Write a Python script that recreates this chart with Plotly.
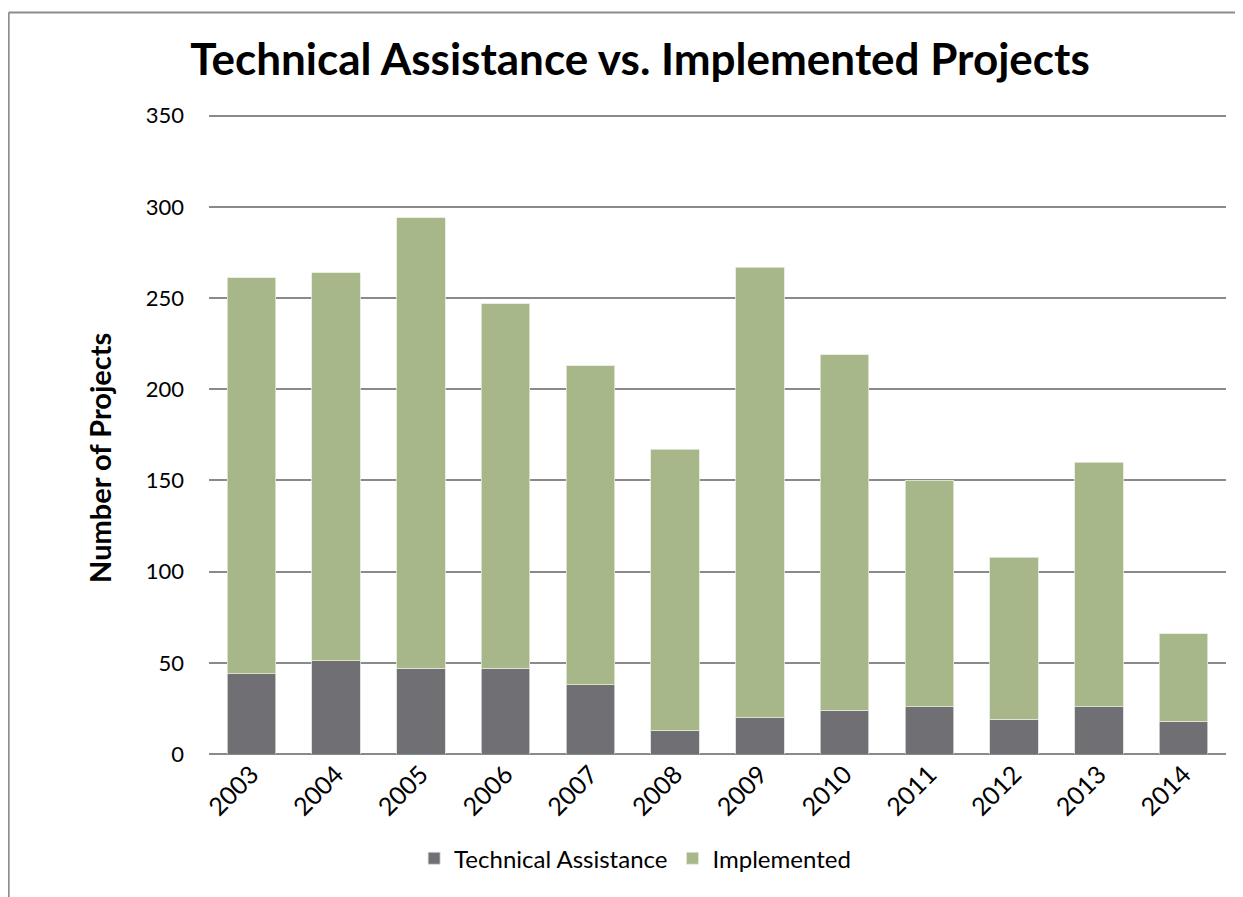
import plotly.graph_objects as go

years = ['2003', '2004', '2005', '2006', '2007', '2008',
         '2009', '2010', '2011', '2012', '2013', '2014']
technical_assistance = [44, 51, 47, 47, 38, 13, 20, 24, 26, 19, 26, 18]
implemented = [217, 213, 247, 200, 175, 154, 247, 195, 124, 89, 134, 48]
y_ticks = [0, 50, 100, 150, 200, 250, 300, 350]

FONT = 'Lato, Open Sans, sans-serif'
GRID = '#8a8a8a'

fig = go.Figure()
fig.add_trace(go.Bar(
    x=years, y=technical_assistance, name='Technical Assistance',
    marker=dict(color='#706f74', line=dict(color='#d9d9d9', width=0.8))
))
fig.add_trace(go.Bar(
    x=years, y=implemented, name='Implemented',
    marker=dict(color='#a7b78a', line=dict(color='#e4ebd8', width=0.8))
))

# chart-area frame (top and left edges visible in the reference)
fig.add_shape(type='line', xref='paper', yref='paper',
              x0=-0.197, x1=1.03, y0=1.155, y1=1.155,
              line=dict(color='#8c8c8c', width=2))
fig.add_shape(type='line', xref='paper', yref='paper',
              x0=-0.197, x1=-0.197, y0=1.155, y1=-0.25,
              line=dict(color='#8c8c8c', width=2))

# y axis title placed like the Excel original (a bit below centre)
fig.add_annotation(
    text='<b>Number of Projects</b>', xref='paper', yref='paper',
    x=-0.107, y=0.4615, textangle=-90, showarrow=False,
    xanchor='center', yanchor='middle',
    font=dict(family=FONT, size=29, color='black')
)

# page body adds an 8px offset, so margins are shifted to compensate;
# range goes a little past 350 so plotly keeps the top gridline
fig.update_layout(
    barmode='stack',
    bargap=0.43,
    width=1243, height=897,
    margin=dict(l=201, r=25, t=104, b=151),
    paper_bgcolor='white',
    plot_bgcolor='white',
    font=dict(family=FONT, color='black', size=20),
    title=dict(
        text='<b>Technical Assistance vs. Implemented Projects</b>',
        x=0.5085, xanchor='center', y=0.943, yanchor='middle',
        font=dict(family=FONT, size=44, color='black')
    ),
    legend=dict(
        orientation='h', x=0.419, xanchor='center',
        y=-0.163, yanchor='middle',
        font=dict(family=FONT, size=24), traceorder='normal',
        itemwidth=30
    ),
    yaxis=dict(
        range=[0, 352], tickvals=y_ticks,
        showgrid=True, gridcolor=GRID, gridwidth=1.8,
        zeroline=True, zerolinecolor=GRID, zerolinewidth=1.8,
        showline=False, ticks='', ticklabelstandoff=24,
        tickfont=dict(family=FONT, size=22)
    ),
    xaxis=dict(
        tickangle=-45, ticks='', showline=False,
        tickfont=dict(family=FONT, size=25)
    ),
    showlegend=True
)

fig.write_html('out.html')
